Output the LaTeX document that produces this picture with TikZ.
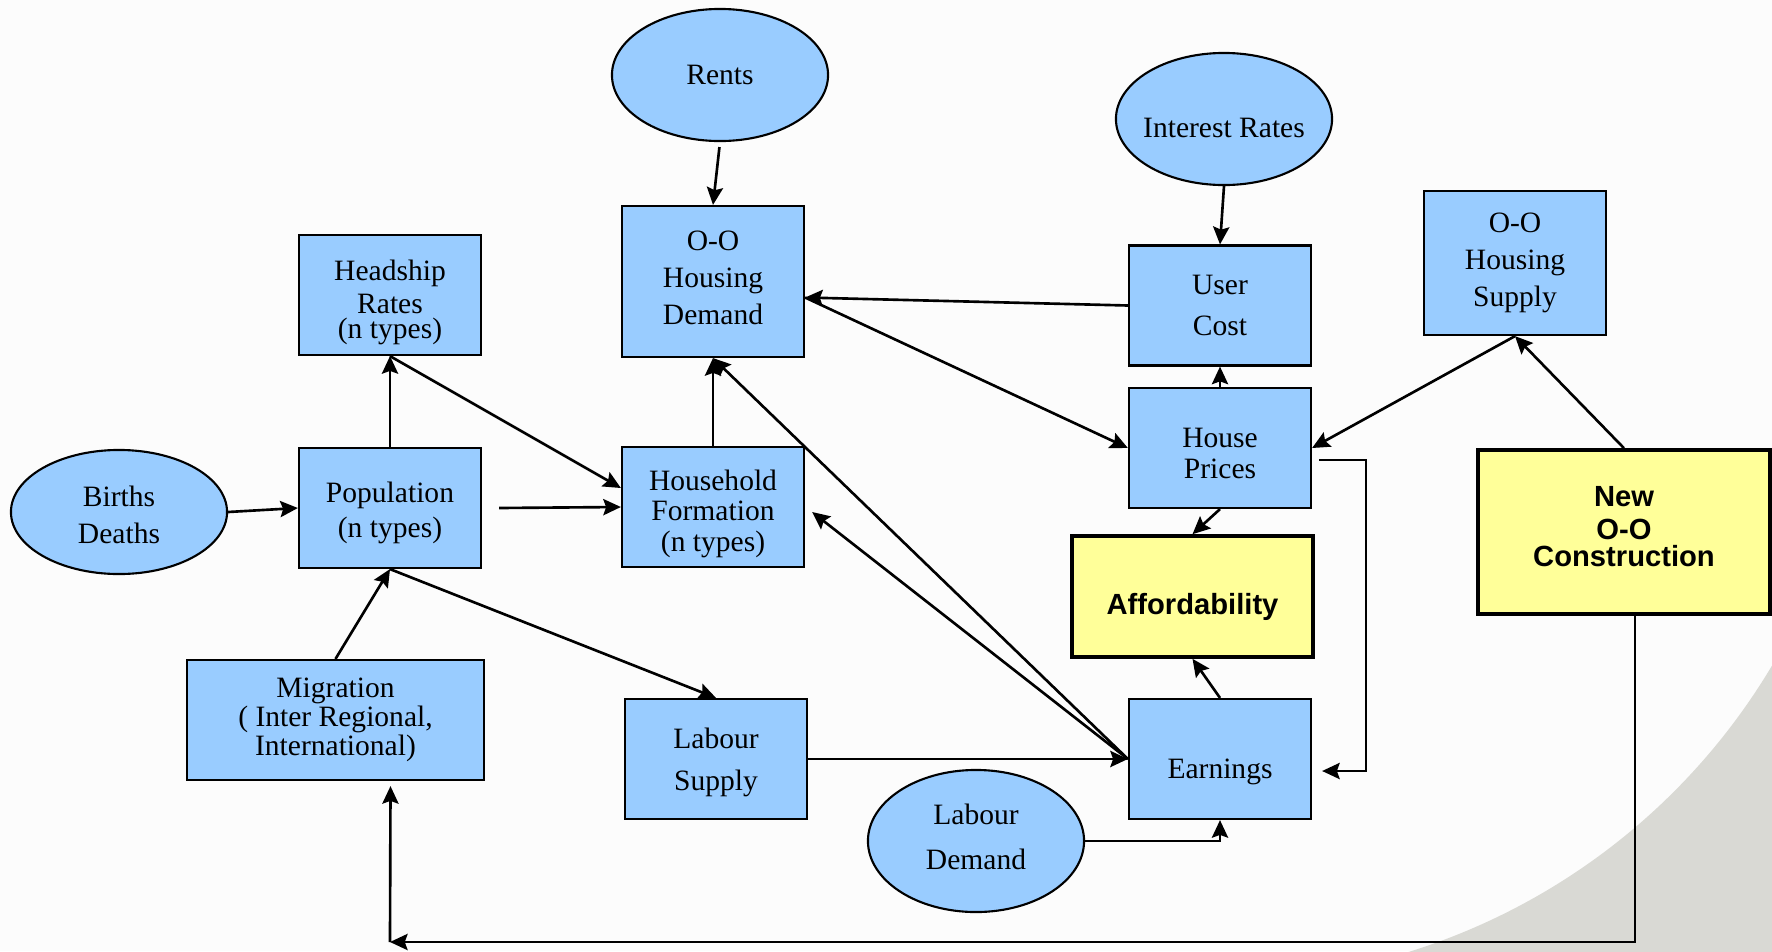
\documentclass[tikz,border=0pt]{standalone}
\usepackage{fontspec}
\setmainfont{Liberation Serif}
\newfontfamily\headsans{Liberation Sans}
\usetikzlibrary{shapes.geometric,arrows.meta,calc}

\definecolor{boxblue}{RGB}{153,204,255}
\definecolor{boxyellow}{RGB}{255,255,153}
\definecolor{paper}{RGB}{252,252,252}
\definecolor{swoosh}{RGB}{217,217,212}

% struts to nudge a text block down (padtop) or up (padbot)
\newcommand\padtop[1]{\rule{0pt}{#1}}
\newcommand\padbot[1]{\rule[-#1]{0pt}{0pt}}

\tikzset{
  blk/.style={draw, fill=boxblue, line width=0.6pt, minimum width=1.82cm,
    minimum height=1.2cm, align=center, inner sep=0pt,
    font=\fontsize{8.4}{10.5}\selectfont},
  hot/.style={draw, fill=boxyellow, line width=1pt, align=center, inner sep=0pt,
    font=\headsans\bfseries\fontsize{8.3}{10}\selectfont},
  oval/.style={ellipse, draw, fill=boxblue, line width=0.6pt,
    minimum width=2.16cm, minimum height=1.32cm, inner sep=0pt},
  every label/.style={align=center, font=\fontsize{8.4}{10.5}\selectfont},
  link/.style={line width=0.75pt, -{Stealth[length=5pt,width=4.6pt,inset=0.8pt]}}
}

\begin{document}
\begin{tikzpicture}[x=0.01cm,y=-0.01cm] % 1 unit = 1 pixel of the slide
\useasboundingbox (0,0) rectangle (1772,951);
\fill[paper] (0,0) rectangle (1772,951);
\begin{scope}
\clip (0,0) rectangle (1772,951);
\fill[swoosh] (1217,335) ++(25:646) arc[start angle=25, end angle=80, radius=646]
  -- (1850,1000) -- cycle;
\end{scope}

% exogenous drivers
\node[oval, label={center:Rents}] (rents) at (720,75) {};
\node[oval, label={[yshift=-0.09cm]center:Interest Rates}] (interest) at (1224,119) {};
\node[oval, minimum height=1.24cm, label={[yshift=-0.03cm]center:Births\\Deaths}] (births) at (119,512) {};
\node[oval, minimum height=1.42cm, label={[yshift=0.04cm]center:Labour\\[2.3pt]Demand}] (labdemand) at (976,841) {};

% housing side
\node[blk] (headship) at (390,295) {\padtop{10pt}Headship\\[-1.2pt]Rates\\[-3.4pt](n types)};
\node[blk, minimum height=1.51cm] (demand) at (713,281.5) {O-O\\Housing\\Demand\padbot{2.2pt}};
\node[blk] (usercost) at (1220,305.5) {User\\[0.9pt]Cost};
\node[blk, minimum height=1.44cm] (supply) at (1515,263) {O-O\\Housing\\Supply};
\node[blk] (population) at (390,508) {\padtop{8.7pt}Population\\[-0.5pt](n types)};
\node[blk] (household) at (713,507) {\padtop{9.8pt}Household\\[-1.9pt]Formation\\[-1.7pt](n types)};
\node[blk] (prices) at (1220,448) {\padtop{8.4pt}House\\[-1.7pt]Prices};

% labour side
\node[blk, minimum width=2.97cm] (migration) at (335.5,720) {Migration\\[-2.2pt]( Inter Regional,\\[-2.2pt]International)};
\node[blk] (labsupply) at (716,759) {\padtop{7.8pt}Labour\\[1.4pt]Supply};
\node[blk, text height=13pt, text depth=2pt] (earnings) at (1220,759) {Earnings};

% outcomes
\node[hot, minimum width=2.41cm, minimum height=1.21cm, text height=12.2pt, text depth=2pt] (afford) at (1192.5,596.5) {Affordability};
\node[hot, minimum width=2.92cm, minimum height=1.64cm] (newcon) at (1624,532) {New\\[-0.6pt]O-O\\[-2.4pt]Construction\padbot{3.2pt}};

% straight links
\foreach \a/\b in {interest.south/usercost.north, prices.north/usercost.south,
    supply.south/prices.east, newcon.north/supply.south,
    prices.south/afford.north, earnings.north/afford.south,
    labsupply.east/earnings.west, earnings.west/demand.south,
    household.north/demand.south, population.north/headship.south,
    births.east/population.west, migration.north/population.south,
    population.south/labsupply.north} {
  \draw[link] (\a) -- (\b);
}
\draw[link, shorten <=0.05cm] (rents.south) -- (demand.north);
\draw[link] (usercost.west) -- ($(demand.east)+(0,16)$);
\draw[link] ($(demand.east)+(0,16)$) -- (prices.west);
\draw[link] (earnings.west) -- ($(household.east)+(7,5)$);
\draw[link] (headship.south) -- ($(household.west)+(0,-19)$);
\draw[link] ($(population.east)+(17,0)$) -- (household.west);

% elbow links
\draw[link] ($(prices.east)+(7,12)$) -- ++(47,0) |- ($(earnings.east)+(10,12)$);
\draw[link] (labdemand.east) -| (earnings.south);
\coordinate (corner) at (390,942);
\draw[link] ($(newcon.south)+(11,0)$) |- (corner);
\draw[link] (corner) -- ($(migration.south)+(55,5)$);
\end{tikzpicture}
\end{document}
